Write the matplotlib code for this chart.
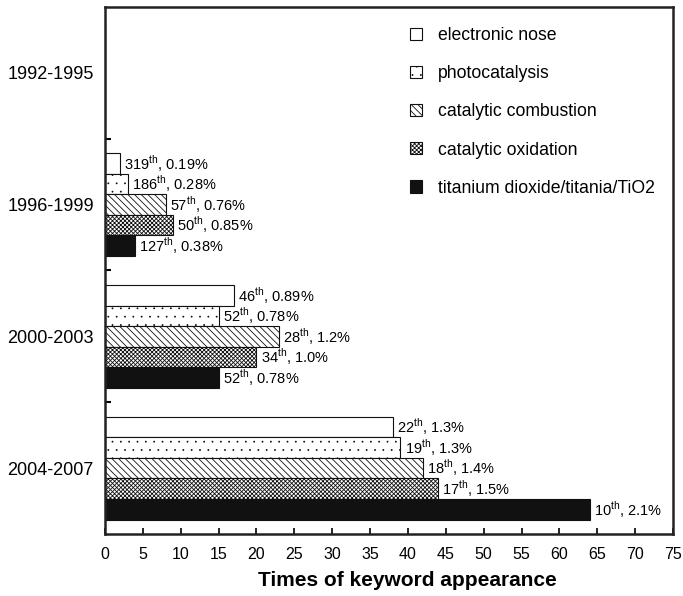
import matplotlib

matplotlib.use("Agg")
import matplotlib.hatch  # noqa: E402
import matplotlib.pyplot as plt  # noqa: E402
import numpy as np  # noqa: E402

periods = ["1992-1995", "1996-1999", "2000-2003", "2004-2007"]
series_names = [
    "electronic nose",
    "photocatalysis",
    "catalytic combustion",
    "catalytic oxidation",
    "titanium dioxide/titania/TiO2",
]
e_nose = [0, 2, 17, 38]
photo = [0, 3, 15, 39]
combustion = [0, 8, 23, 42]
oxidation = [0, 9, 20, 44]
tio2 = [0, 4, 15, 64]

e_nose_rank = ["", "319", "46", "22"]
photo_rank = ["", "186", "52", "19"]
combustion_rank = ["", "57", "28", "18"]
oxidation_rank = ["", "50", "34", "17"]
tio2_rank = ["", "127", "52", "10"]

e_nose_pct = ["", "0.19%", "0.89%", "1.3%"]
photo_pct = ["", "0.28%", "0.78%", "1.3%"]
combustion_pct = ["", "0.76%", "1.2%", "1.4%"]
oxidation_pct = ["", "0.85%", "1.0%", "1.5%"]
tio2_pct = ["", "0.38%", "0.78%", "2.1%"]

values = [e_nose, photo, combustion, oxidation, tio2]
ranks = [e_nose_rank, photo_rank, combustion_rank, oxidation_rank, tio2_rank]
pcts = [e_nose_pct, photo_pct, combustion_pct, oxidation_pct, tio2_pct]
styles = [
    dict(color="white", hatch=None),
    dict(color="white", hatch=".."),
    dict(color="white", hatch="\\" * 5),
    dict(color="white", hatch="x" * 8),
    dict(color="#111111", hatch=None),
]

# smaller dots for the photocatalysis texture
matplotlib.hatch.SmallFilledCircles.size = 0.06

plt.rcParams.update({
    "font.family": ["Liberation Sans", "DejaVu Sans"],
    "font.size": 11,
    "mathtext.fontset": "custom",
    "mathtext.rm": "Liberation Sans",
    "hatch.linewidth": 0.6,
})

fig = plt.figure(figsize=(6.83, 5.96), dpi=100)
ax = fig.add_axes([0.1537, 0.104, 0.8317, 0.8843])

bar_h = 0.156
y = np.arange(len(periods))
for k, (vals, rk, pc, st) in enumerate(zip(values, ranks, pcts, styles)):
    pos = y + (k - 2) * bar_h
    ax.barh(pos, vals, height=bar_h, color=st["color"], hatch=st["hatch"],
            edgecolor="#111111", linewidth=0.8, label=series_names[k])
    for yy, v, r, p in zip(pos, vals, rk, pc):
        if r:
            ax.annotate(rf"{r}$^{{\mathrm{{th}}}}$, {p}", (v, yy),
                        textcoords="offset points", xytext=(3, 0),
                        va="center", ha="left", fontsize=10.5)

ax.set_ylim(3.5, -0.5)
ax.set_xlim(0, 75)
ax.set_xticks(np.arange(0, 76, 5))
ax.set_yticks(y)
ax.set_yticklabels(periods, fontsize=13)
ax.set_yticks([0.5, 1.5, 2.5], minor=True)
ax.tick_params(axis="y", which="major", length=0, pad=8)
ax.tick_params(axis="y", which="minor", direction="in", length=4, width=1.5)
ax.tick_params(axis="x", direction="in", length=4, width=1.2, pad=9, labelsize=11.5)
for s in ax.spines.values():
    s.set_linewidth(1.8)
    s.set_color("#222222")

ax.set_xlabel("Times of keyword appearance", fontsize=15, fontweight="bold")
ax.xaxis.set_label_coords(0.533, -0.07)

ax.legend(loc="upper left", bbox_to_anchor=(0.537, 0.962), frameon=False,
          borderpad=0, borderaxespad=0, handlelength=0.68, handleheight=0.68,
          handletextpad=0.9, labelspacing=1.2, fontsize=12.7)

fig.savefig("out.png", dpi=100)
plt.close(fig)
